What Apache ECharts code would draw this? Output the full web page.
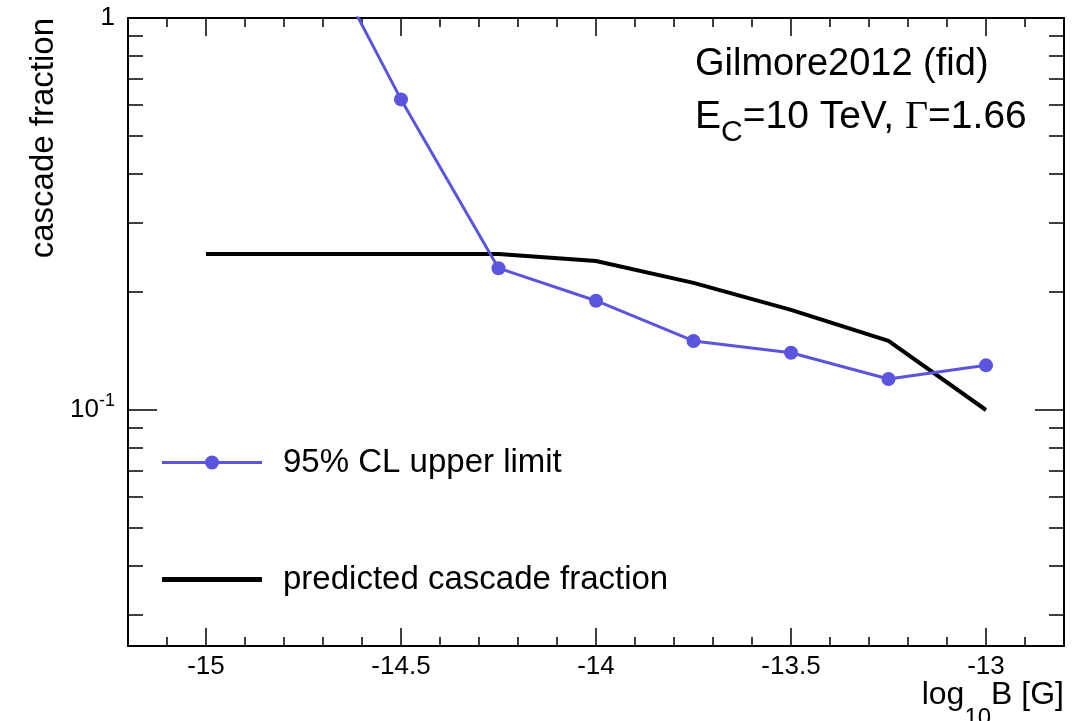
<!DOCTYPE html>
<html><head><meta charset="utf-8">
<script src="https://cdn.jsdelivr.net/npm/echarts@6/dist/echarts.min.js"></script>
<style>html,body{margin:0;padding:0;background:#fff}#c{width:1080px;height:721px}</style>
</head><body><div id="c"></div>
<script>
// ---- data ----
const upperLimitX = [-14.75, -14.5, -14.25, -14, -13.75, -13.5, -13.25, -13];
const upperLimit  = [1.85, 0.62, 0.23, 0.19, 0.15, 0.14, 0.12, 0.13];
const predictedX  = [-15, -14.75, -14.5, -14.25, -14, -13.75, -13.5, -13.25, -13];
const predicted   = [0.25, 0.25, 0.25, 0.25, 0.24, 0.211, 0.18, 0.15, 0.10];
const seriesNames = ['95% CL upper limit', 'predicted cascade fraction'];
const xMajorTicks = [-15, -14.5, -14, -13.5, -13];
const xMinorTicks = [-15.1, -14.9, -14.8, -14.7, -14.6, -14.4, -14.3, -14.2, -14.1,
                     -13.9, -13.8, -13.7, -13.6, -13.4, -13.3, -13.2, -13.1, -12.9];
const yMajorTicks = [0.1, 1];
const yMinorTicks = [0.03, 0.04, 0.05, 0.06, 0.07, 0.08, 0.09,
                     0.2, 0.3, 0.4, 0.5, 0.6, 0.7, 0.8, 0.9];
const xRange = [-15.2, -12.8];
const yRange = [0.025, 1];

// ---- styling ----
const FONT = 'Liberation Sans';
const BLUE = '#5a55dc';
// legend icons: 100x16 box; thin stripe (+ dot) centred
const ICON_LINE_DOT = 'path://M0,0 M0,6.5 L100,6.5 L100,9.5 L0,9.5 Z M50,1 A7,7 0 1,1 50,15 A7,7 0 1,1 50,1 Z M100,16';
const ICON_LINE_THICK = 'path://M0,0 M0,5.5 L100,5.5 L100,10.5 L0,10.5 Z M100,16';

const zip = (xs, ys) => xs.map((x, i) => [x, ys[i]]);

function xAx(pos, ticks, len, showLine, showLabel) {
  return {
    type: 'value', min: xRange[0], max: xRange[1], position: pos,
    axisLine: { show: showLine, onZero: false, lineStyle: { color: '#000', width: 2 } },
    axisTick: { show: true, inside: true, length: len, customValues: ticks,
                lineStyle: { color: '#000', width: 1.5 } },
    axisLabel: showLabel ? { show: true, customValues: ticks, fontSize: 26, fontFamily: FONT,
                color: '#000', margin: 8 } : { show: false },
    splitLine: { show: false }
  };
}
function yAx(pos, ticks, len, showLine, showLabel) {
  return {
    type: 'log', logBase: 10, min: yRange[0], max: yRange[1], position: pos,
    axisLine: { show: showLine, onZero: false, lineStyle: { color: '#000', width: 2 } },
    axisTick: { show: true, inside: true, length: len, customValues: ticks,
                lineStyle: { color: '#000', width: 1.5 } },
    axisLabel: showLabel ? {
      show: true, customValues: ticks, margin: 13, color: '#000',
      formatter: v => {
        const e = Math.round(Math.log10(v));
        return e === 0 ? '{m|1}' : '{m|10}{s|' + e + '}';
      },
      rich: {
        m: { fontSize: 26, fontFamily: FONT, color: '#000' },
        s: { fontSize: 18, fontFamily: FONT, color: '#000', padding: [0, 0, 18, 0] }
      }
    } : { show: false },
    splitLine: { show: false }
  };
}

const chart = echarts.init(document.getElementById('c'), null, { renderer: 'canvas' });
chart.setOption({
  animation: false,
  backgroundColor: '#fff',
  grid: { left: 128, right: 16, top: 18, bottom: 75, containLabel: false, outerBoundsMode: 'none' },
  xAxis: [
    xAx('bottom', xMajorTicks, 18, true, true),
    xAx('bottom', xMinorTicks, 9, false, false),
    xAx('top', xMajorTicks, 18, true, false),
    xAx('top', xMinorTicks, 9, false, false)
  ],
  yAxis: [
    yAx('left', yMajorTicks, 29, true, true),
    yAx('left', yMinorTicks, 15, false, false),
    yAx('right', yMajorTicks, 29, true, false),
    yAx('right', yMinorTicks, 15, false, false)
  ],
  legend: {
    orient: 'vertical', left: 162, top: 446, padding: 0,
    itemWidth: 100, itemHeight: 16, itemGap: 84,
    textStyle: { fontSize: 33, lineHeight: 33, fontFamily: FONT, color: '#000', padding: [0, 0, 0, 16] },
    data: [
      { name: seriesNames[0], icon: ICON_LINE_DOT, itemStyle: { color: BLUE, borderWidth: 0 } },
      { name: seriesNames[1], icon: ICON_LINE_THICK, itemStyle: { color: '#000', borderWidth: 0 } }
    ]
  },
  series: [
    {
      name: seriesNames[1], type: 'line', xAxisIndex: 0, yAxisIndex: 0,
      data: zip(predictedX, predicted), symbol: 'none', clip: true,
      lineStyle: { color: '#000', width: 4 }, itemStyle: { color: '#000' }
    },
    {
      name: seriesNames[0], type: 'line', xAxisIndex: 0, yAxisIndex: 0,
      data: zip(upperLimitX, upperLimit), symbol: 'circle', symbolSize: 14, clip: true,
      lineStyle: { color: BLUE, width: 3 }, itemStyle: { color: BLUE }
    }
  ],
  graphic: [
    { type: 'text', x: 44, y: 18, rotation: Math.PI / 2,
      style: { text: 'cascade fraction', fontSize: 33, fontFamily: FONT, fill: '#000',
               align: 'right', verticalAlign: 'middle' } },
    { type: 'text', x: 1064, y: 695.6,
      style: { text: '{m|log}{s|10}{m|B [G]}', fill: '#000', align: 'right', verticalAlign: 'middle',
               rich: { m: { fontSize: 32, lineHeight: 32, fontFamily: FONT },
                       s: { fontSize: 24, lineHeight: 24, fontFamily: FONT, padding: [46, 0, 0, 0] } } } },
    { type: 'text', x: 695, y: 65,
      style: { text: 'Gilmore2012 (fid)', fontSize: 38, fontFamily: FONT, fill: '#000',
               align: 'left', verticalAlign: 'middle' } },
    { type: 'text', x: 695, y: 117,
      style: { text: '{m|E}{s|C}{m|=10 TeV, }{g|Γ}{m|=1.66}', fill: '#000', align: 'left', verticalAlign: 'middle',
               rich: { m: { fontSize: 39, lineHeight: 38, fontFamily: FONT },
                       s: { fontSize: 30, lineHeight: 30, fontFamily: FONT, padding: [31, 0, 0, 0] },
                       g: { fontSize: 40, lineHeight: 38, fontFamily: 'Liberation Serif' } } } }
  ]
});
</script>
</body></html>
